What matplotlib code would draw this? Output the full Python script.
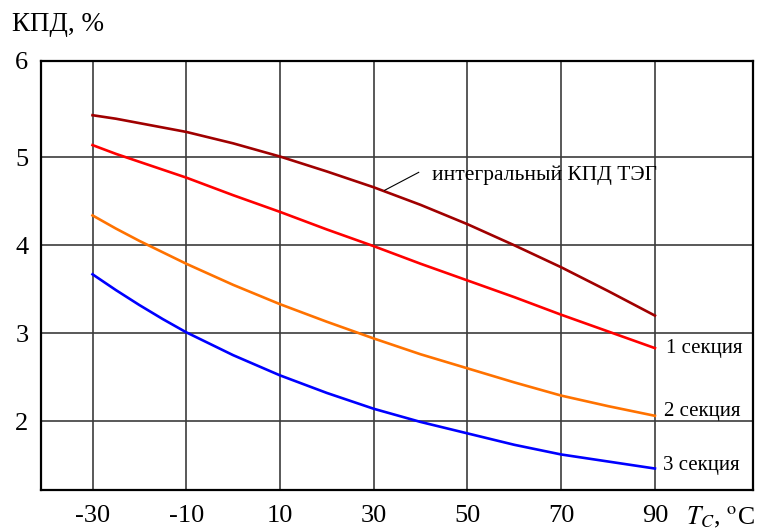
import numpy as np
import matplotlib
matplotlib.use("Agg")
import matplotlib.pyplot as plt

plt.rcParams['font.family'] = ['Liberation Serif', 'DejaVu Serif']
plt.rcParams['mathtext.fontset'] = 'stix'

# temperature of cold side, deg C
temp = [-30, -25, -20, -15, -10, 0, 10, 20, 30, 40, 50, 60, 70, 80, 90]

# efficiency, %
eff_total = [5.48, 5.44, 5.39, 5.34, 5.29, 5.16, 5.01, 4.84, 4.66, 4.46, 4.24, 4.00, 3.75, 3.48, 3.20]
eff_sec1 = [5.14, 5.04, 4.95, 4.86, 4.77, 4.57, 4.38, 4.18, 3.99, 3.79, 3.60, 3.41, 3.21, 3.02, 2.83]
eff_sec2 = [4.34, 4.19, 4.05, 3.92, 3.79, 3.55, 3.33, 3.13, 2.94, 2.76, 2.60, 2.44, 2.29, 2.17, 2.06]
eff_sec3 = [3.67, 3.49, 3.32, 3.16, 3.01, 2.75, 2.52, 2.32, 2.14, 1.99, 1.86, 1.73, 1.62, 1.54, 1.46]

x_ticks = [-30, -10, 10, 30, 50, 70, 90]
y_ticks = [2, 3, 4, 5]

fig = plt.figure(figsize=(7.76, 5.28), dpi=100)
ax = fig.add_axes([0.0528, 0.072, 0.918, 0.813])

ymin, ymax = 1.216, 6.10
ax.set_xlim(-41, 111)
ax.set_ylim(ymin, ymax)

lw = 1.9
ax.plot(temp, eff_total, color='#a00000', lw=lw, zorder=3)
ax.plot(temp, eff_sec1, color='#ff0000', lw=lw, zorder=3)
ax.plot(temp, eff_sec2, color='#ff7200', lw=lw, zorder=3)
ax.plot(temp, eff_sec3, color='#0000ff', lw=lw, zorder=3)

# grid
for x in x_ticks:
    ax.axvline(x, color='#3c3c3c', lw=1.2, zorder=1)
for y in y_ticks:
    ax.axhline(y, color='#3c3c3c', lw=1.2, zorder=1)

ax.set_xticks(x_ticks)
ax.set_xticklabels([str(t) for t in x_ticks])
ax.set_yticks(y_ticks + [ymax])
ax.set_yticklabels([str(t) for t in y_ticks] + ['6'])
ax.tick_params(length=0, labelsize=19)
ax.tick_params(axis='x', pad=11)
ax.tick_params(axis='y', pad=9)

for s in ax.spines.values():
    s.set_linewidth(1.6)
    s.set_color('black')

# labels
fig.text(0.015, 0.953, 'КПД, %', fontsize=19.5, ha='left', va='center')
fig.text(0.884, 0.021, r'$T_C$, $^{\rm o}$C', fontsize=18.5, ha='left', va='center')

ax.plot([32.3, 39.6], [4.625, 4.83], color='black', lw=0.8, zorder=4)
ax.text(42.5, 4.80, 'интегральный КПД ТЭГ', fontsize=15.5, ha='left', va='center')
ax.text(92.3, 2.83, '1 секция', fontsize=15, ha='left', va='center')
ax.text(92.0, 2.11, '2 секция', fontsize=15, ha='left', va='center')
ax.text(91.7, 1.50, '3 секция', fontsize=15, ha='left', va='center')

fig.savefig('out.png', dpi=100)
